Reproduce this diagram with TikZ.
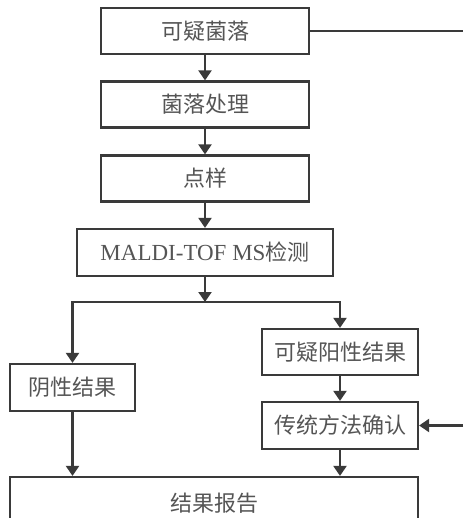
\documentclass[tikz,border=0pt]{standalone}
\usepackage{fontspec}
\setmainfont{Liberation Serif}
\newfontfamily\cjk{Noto Sans CJK SC}
\usetikzlibrary{arrows.meta}
\definecolor{linegray}{HTML}{3A3A3A}
\definecolor{textgray}{HTML}{555555}
\begin{document}
\begin{tikzpicture}[
    x=1pt, y=1pt,
    stepbox/.style={rectangle, draw=linegray, line width=2.2pt, inner sep=0pt, align=center,
        text=textgray, font=\fontsize{22}{26}\selectfont\cjk},
    arrow/.style={-{Triangle[width=13pt,length=10pt]}, line width=2.2pt, draw=linegray},
    plain/.style={line width=2.2pt, draw=linegray}
]
    \useasboundingbox (0,0) rectangle (463,-518);

    % Schritte
    \node[stepbox, minimum width=208pt, minimum height=46pt] (colony) at (205,-31) {可疑菌落};
    \node[stepbox, minimum width=208pt, minimum height=46pt] (prep) at (205,-104.5) {菌落处理};
    \node[stepbox, minimum width=208pt, minimum height=46pt] (spot) at (205,-178.5) {点样};
    \node[stepbox, minimum width=256pt, minimum height=47pt] (maldi) at (205,-252.5) {{\rmfamily\fontsize{23}{26}\selectfont MALDI-TOF MS}检测};
    \node[stepbox, minimum width=125pt, minimum height=47pt] (neg) at (72.5,-387.5) {阴性结果};
    \node[stepbox, minimum width=156pt, minimum height=46pt] (pos) at (340,-352) {可疑阳性结果};
    \node[stepbox, minimum width=156pt, minimum height=47pt] (confirm) at (340,-425.5) {传统方法确认};
    \node[stepbox, minimum width=408pt, minimum height=52pt] (report) at (214,-503) {结果报告};

    % Hilfspunkte
    \coordinate (split) at (205,-302);
    \coordinate (outR) at (463,-31);
    \coordinate (inR) at (463,-425.5);

    % Verbindungen
    \draw[plain] (colony.east) -- (outR);
    \draw[arrow] (colony) -- (prep);
    \draw[arrow] (prep) -- (spot);
    \draw[arrow] (spot) -- (maldi);
    \draw[arrow] (maldi) -- (split);
    \draw[arrow] (split) -| (neg.north);
    \draw[arrow] (split) -| (pos.north);
    \draw[arrow] (pos) -- (confirm);
    \draw[arrow] (inR) -- (confirm.east);
    \draw[arrow] (neg.south) -- (neg.south |- report.north);
    \draw[arrow] (confirm.south) -- (confirm.south |- report.north);
\end{tikzpicture}
\end{document}
